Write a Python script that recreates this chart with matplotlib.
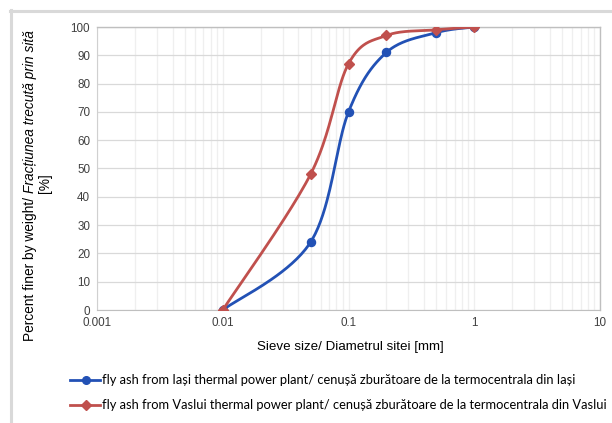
import numpy as np
import matplotlib
matplotlib.use("Agg")
import matplotlib.pyplot as plt
from matplotlib.lines import Line2D

# ---- data ----
sieve_mm = [0.01, 0.05, 0.1, 0.2, 0.5, 1.0]
iasi_pct = [0, 24, 70, 91, 98, 100]
vaslui_pct = [0, 48, 87, 97, 99, 100]
x_ticks = [0.001, 0.01, 0.1, 1, 10]
x_tick_labels = ["0.001", "0.01", "0.1", "1", "10"]
y_ticks = [0, 10, 20, 30, 40, 50, 60, 70, 80, 90, 100]
label_iasi = "fly ash from Iași thermal power plant/ cenușă zburătoare de la termocentrala din Iași"
label_vaslui = "fly ash from Vaslui thermal power plant/ cenușă zburătoare de la termocentrala din Vaslui"

BLUE = "#2251B5"
RED = "#C0504D"


def excel_smooth(xs, ys, n=40):
    """Catmull-Rom style Bezier smoothing (like Excel smoothed lines) in log-x space."""
    px = np.log10(np.asarray(xs, float))
    py = np.asarray(ys, float)
    P = np.column_stack([px, py])
    out = []
    m = len(P)
    for i in range(m - 1):
        p0 = P[i - 1] if i > 0 else P[i]
        p1 = P[i]
        p2 = P[i + 1]
        p3 = P[i + 2] if i + 2 < m else P[i + 1]
        c1 = p1 + (p2 - p0) / 6.0
        c2 = p2 - (p3 - p1) / 6.0
        t = np.linspace(0, 1, n)[:, None]
        seg = ((1 - t) ** 3) * p1 + 3 * ((1 - t) ** 2) * t * c1 + 3 * (1 - t) * t ** 2 * c2 + t ** 3 * p2
        out.append(seg if i == 0 else seg[1:])
    out = np.vstack(out)
    return 10 ** out[:, 0], out[:, 1]


W, H = 612, 423
fig = plt.figure(figsize=(W / 100, H / 100), dpi=100)
fig.patch.set_facecolor("white")

# outer frame (partial, as in the reference crop)
fig.add_artist(Line2D([10 / W, 1.0], [1 - 11 / H, 1 - 11 / H], color="#d9d9d9", lw=2.2,
                      transform=fig.transFigure))
fig.add_artist(Line2D([11 / W, 11 / W], [0, 1 - 10 / H], color="#d9d9d9", lw=2.2,
                      transform=fig.transFigure))

ax = fig.add_axes([97 / W, (H - 310) / H, (600 - 97) / W, (310 - 27) / H])
ax.set_xscale("log")
ax.set_xlim(0.001, 10)
ax.set_ylim(0, 100)

ax.grid(True, which="major", axis="y", color="#d9d9d9", lw=0.9)
ax.grid(True, which="both", axis="x", color="#efefef", lw=0.9)
ax.set_axisbelow(True)

for s in ["top", "right"]:
    ax.spines[s].set_color("#bfbfbf")
    ax.spines[s].set_linewidth(1.0)
ax.spines["left"].set_color("#d0d0d0")
ax.spines["bottom"].set_color("#bfbfbf")

ax.set_xticks(x_ticks)
ax.set_xticklabels(x_tick_labels)
ax.set_yticks(y_ticks)
ax.tick_params(which="both", length=0, labelsize=8.4, labelcolor="#404040", pad=5)
ax.xaxis.set_minor_formatter(matplotlib.ticker.NullFormatter())
for lab in ax.get_xticklabels() + ax.get_yticklabels():
    lab.set_fontfamily("Liberation Sans")

xi, yi = excel_smooth(sieve_mm, iasi_pct)
xv, yv = excel_smooth(sieve_mm, vaslui_pct)
ax.plot(xi, yi, color=BLUE, lw=2.0, zorder=3, solid_capstyle="round")
ax.plot(sieve_mm, iasi_pct, ls="none", marker="o", ms=5.8, color=BLUE, zorder=4)
ax.plot(xv, yv, color=RED, lw=2.0, zorder=5, solid_capstyle="round")
ax.plot(sieve_mm, vaslui_pct, ls="none", marker="D", ms=5.0, color=RED, zorder=6)

# x label positioned like the reference
fig.text(350 / W, (H - 347) / H, "Sieve size/ Diametrul sitei [mm]", fontsize=9.6,
         family="Liberation Sans", ha="center", va="center", color="#000000")

# y label: mixed normal / italic text, rotated
fig.canvas.draw()
r = fig.canvas.get_renderer()
fs = 9.9
t1 = fig.text(30 / W, 0, "Percent finer by weight/ ", rotation=90, fontsize=fs,
              family="Liberation Sans", ha="center", va="bottom")
t2 = fig.text(30 / W, 0, "Fracțiunea trecută prin sită", rotation=90, fontsize=fs,
              family="Liberation Sans", style="italic", ha="center", va="bottom")
h1 = t1.get_window_extent(r).height
h2 = t2.get_window_extent(r).height
total = h1 + h2
center = H - 186
y0 = center - total / 2
t1.set_position((30 / W, y0 / H))
t2.set_position((30 / W, (y0 + h1) / H))
fig.text(45 / W, (H - 183) / H, "[%]", rotation=90, fontsize=fs, family="Liberation Sans",
         ha="center", va="center")

# legend (manual)
for yy, col, mk, ms, lab in [(380, BLUE, "o", 5.5, label_iasi), (405, RED, "D", 4.6, label_vaslui)]:
    yf = (H - yy) / H
    fig.add_artist(Line2D([70 / W, 100 / W], [yf, yf], color=col, lw=2.0, transform=fig.transFigure))
    fig.add_artist(Line2D([86 / W], [yf], marker=mk, ms=ms, color=col, ls="none",
                          transform=fig.transFigure))
    fig.text(102 / W, yf, lab, fontsize=9.3, family="Lato", va="center", ha="left", color="#000000")

fig.savefig("out.png", dpi=100)
